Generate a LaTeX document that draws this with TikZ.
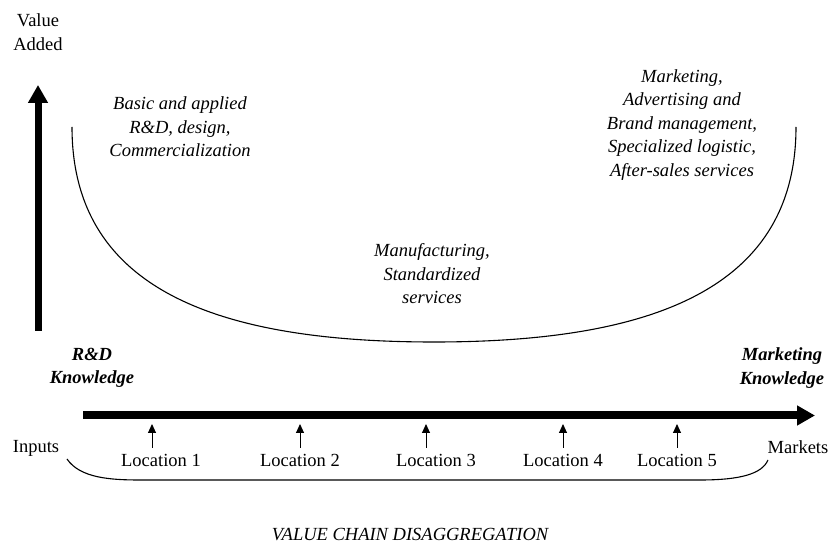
\documentclass[tikz,border=0pt]{standalone}
\usepackage{fontspec}
\setmainfont{Liberation Serif}
\usetikzlibrary{arrows.meta}
\tikzset{
  lbl/.style={inner sep=0pt, align=center, font=\fontsize{18.5}{23.5}\selectfont},
  itl/.style={lbl, font=\fontsize{18.5}{23.5}\selectfont\itshape},
  bitl/.style={lbl, font=\fontsize{18.5}{23.5}\selectfont\bfseries\itshape},
  bigarrow/.style={line width=7pt, -{Triangle[width=19pt,length=18pt]}},
  chainarrow/.style={line width=8pt, -{Triangle[width=19pt,length=18pt]}},
  locarrow/.style={line width=1pt, -{Triangle[width=8pt,length=9pt]}},
  curveline/.style={line width=1.1pt},
}
\begin{document}
\begin{tikzpicture}[x=1pt,y=-1pt]
\useasboundingbox (0,0) rectangle (831,545);
% value added axis
\node[lbl] (va) at (38,32) {Value\\Added};
\coordinate (vbot) at (38,331);
\coordinate (vtop) at (38,85);
\draw[bigarrow] (vbot) -- (vtop);
% smile curve
\coordinate (cl) at (72,127);
\coordinate (cb) at (434,342);
\coordinate (cr) at (796,127);
\draw[curveline] (cl) .. controls (72,292) and (222,342) .. (cb) .. controls (646,342) and (796,292) .. (cr);
% activity texts
\node[itl] (rd) at (180,127) {Basic and applied\\R\&D, design,\\Commercialization};
\node[itl] (mk) at (682,125) {Marketing,\\Advertising and\\Brand management,\\Specialized logistic,\\After-sales services};
\node[itl] (mf) at (432,274) {Manufacturing,\\Standardized\\services};
% knowledge labels
\node[bitl] (rdk) at (92,368) {R\&D\\Knowledge};
\node[bitl] (mkk) at (782,368) {Marketing\\Knowledge};
% chain arrow
\coordinate (cs) at (83,415.5);
\coordinate (ce) at (815,415.5);
\draw[chainarrow] (cs) -- (ce);
% inputs / markets
\node[lbl] (inp) at (36,448) {Inputs};
\node[lbl] (mkt) at (798,447) {Markets};
% locations
\foreach \i/\lx/\ax in {1/161/152, 2/300/300, 3/436/426, 4/563/563, 5/677/677} {
  \node[lbl] (loc\i) at (\lx,460) {Location \i};
  \coordinate (ab\i) at (\ax,448);
  \coordinate (at\i) at (\ax,424);
  \draw[locarrow] (ab\i) -- (at\i);
}
% brace
\coordinate (bl) at (67,459);
\coordinate (br) at (768,460);
\draw[curveline] (bl) .. controls (80,478) and (110,480) .. (140,480) -- (700,480) .. controls (740,480) and (762,474) .. (br);
% title
\node[itl] (title) at (410,535) {VALUE CHAIN DISAGGREGATION};
\end{tikzpicture}
\end{document}
